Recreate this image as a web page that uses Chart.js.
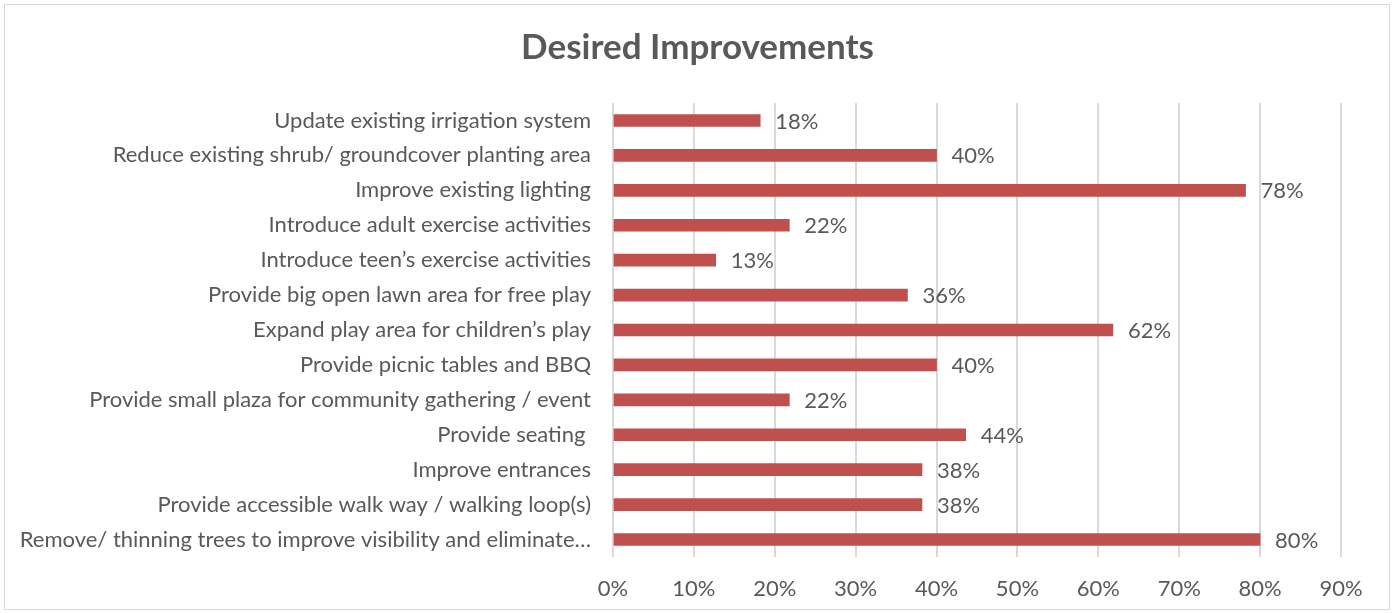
<!DOCTYPE html>
<html>
<head>
<meta charset="utf-8">
<script src="https://cdn.jsdelivr.net/npm/chart.js@4.4.1/dist/chart.umd.min.js"></script>
<style>
  html, body { margin: 0; padding: 0; background: #fff; }
  .wrap { position: relative; width: 1395px; height: 613px; }
  .frame {
    position: absolute; left: 4px; top: 4px; width: 1384px; height: 604px;
    border: 1px solid #d9d9d9; pointer-events: none;
  }
  canvas { display: block; }
</style>
</head>
<body>
<div class="wrap">
  <canvas id="chart" width="1395" height="613"></canvas>
  <div class="frame"></div>
</div>
<script>
const TITLE = "Desired Improvements";

const categories = [
  "Update existing irrigation system",
  "Reduce existing shrub/ groundcover planting area",
  "Improve existing lighting",
  "Introduce adult exercise activities",
  "Introduce teen\u2019s exercise activities",
  "Provide big open lawn area for free play",
  "Expand play area for children\u2019s play",
  "Provide picnic tables and BBQ",
  "Provide small plaza for community gathering / event",
  "Provide seating ",
  "Improve entrances",
  "Provide accessible walk way / walking loop(s)",
  "Remove/ thinning trees to improve visibility and eliminate\u2026",
];

const shares = [18.2, 40.0, 78.2, 21.8, 12.7, 36.4, 61.8, 40.0, 21.8, 43.6, 38.2, 38.2, 80.0];

const xTicks = [0, 10, 20, 30, 40, 50, 60, 70, 80, 90];

const FONT = "Lato, 'Open Sans', sans-serif";
const TEXT = "#595959";
const BAR = "#c0504d";
const GRID = "#d9d9d9";

const valueLabels = {
  id: "valueLabels",
  // center the title on the whole canvas, not on the padded box
  afterLayout: (chart) => {
    const title = chart.titleBlock;
    title.left = 0;
    title.right = chart.width;
    title.width = chart.width;
  },
  afterDatasetsDraw: (chart) => {
    const { ctx } = chart;
    const meta = chart.getDatasetMeta(0);
    ctx.save();
    ctx.font = `22px ${FONT}`;
    ctx.fillStyle = TEXT;
    ctx.textAlign = "left";
    ctx.textBaseline = "middle";
    meta.data.forEach((bar, i) => {
      ctx.fillText(`${Math.round(shares[i])}%`, bar.x + 15, bar.y + 1);
    });
    ctx.restore();
  },
};

const chart = new Chart(document.getElementById("chart").getContext("2d"), {
  type: "bar",
  data: {
    labels: categories,
    datasets: [
      {
        data: shares,
        backgroundColor: BAR,
        barThickness: 12,
      },
    ],
  },
  options: {
    indexAxis: "y",
    responsive: false,
    animation: false,
    events: [],
    layout: { padding: { left: 0, right: 54, top: 0, bottom: 0 } },
    plugins: {
      legend: { display: false },
      tooltip: { enabled: false },
      title: {
        display: true,
        text: TITLE,
        color: TEXT,
        font: { family: FONT, size: 35, weight: "bold" },
        padding: { top: 27, bottom: 34 },
      },
    },
    scales: {
      x: {
        min: 0,
        max: 90,
        afterBuildTicks: (scale) => {
          scale.ticks = xTicks.map((value) => ({ value }));
        },
        afterFit: (scale) => {
          scale.height = 56;
        },
        grid: { color: GRID, lineWidth: 2, drawTicks: false },
        border: { display: false },
        ticks: {
          color: TEXT,
          font: { family: FONT, size: 22 },
          padding: 19,
          callback: (v) => `${v}%`,
        },
      },
      y: {
        afterFit: (scale) => {
          scale.width = 613;
        },
        grid: { display: false, drawTicks: false },
        border: { display: false },
        ticks: {
          color: TEXT,
          font: { family: FONT, size: 22 },
          padding: 22,
          autoSkip: false,
        },
      },
    },
  },
  plugins: [valueLabels],
});
</script>
</body>
</html>
